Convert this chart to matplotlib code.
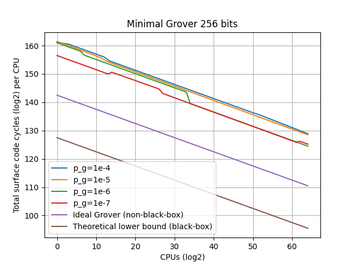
import io
import numpy as np
import matplotlib
matplotlib.use("Agg")
import matplotlib.pyplot as plt
from PIL import Image

# breakpoints (CPUs in log2, cycles in log2)
x_1e4 = [0, 3, 12, 13.4, 50, 51, 64]
y_1e4 = [161.2, 160.5, 156.0, 154.6, 136.3, 135.9, 128.9]

x_1e5 = [0, 8, 11, 13, 64]
y_1e5 = [161.5, 157.4, 155.8, 154.3, 128.5]

x_1e6 = [0, 6, 7, 33, 34, 64]
y_1e6 = [161.0, 158.0, 156.6, 143.6, 139.5, 124.5]

x_1e7 = [0, 13, 14, 26, 27, 61, 62, 63, 64]
y_1e7 = [156.5, 150.0, 150.6, 144.7, 143.1, 125.9, 126.2, 125.7, 125.2]

x_ideal = [0, 64]
y_ideal = [142.5, 110.5]

x_lower = [0, 64]
y_lower = [127.5, 95.5]

fig, ax = plt.subplots(figsize=(6.4, 4.8), dpi=100)

ax.plot(x_1e4, y_1e4, label="p_g=1e-4")
ax.plot(x_1e5, y_1e5, label="p_g=1e-5")
ax.plot(x_1e6, y_1e6, label="p_g=1e-6")
ax.plot(x_1e7, y_1e7, label="p_g=1e-7")
ax.plot(x_ideal, y_ideal, label="Ideal Grover (non-black-box)")
ax.plot(x_lower, y_lower, label="Theoretical lower bound (black-box)")

ax.set_title("Minimal Grover 256 bits")
ax.set_xlabel("CPUs (log2)")
ax.set_ylabel("Total surface code cycles (log2) per CPU")
ax.grid(True)
ax.legend(loc="lower left")

# render at 640x480 then scale down, like the reference
buf = io.BytesIO()
fig.savefig(buf, format="png", dpi=100)
buf.seek(0)
img = Image.open(buf).convert("RGB")
img.resize((356, 267), Image.LANCZOS).save("out.png")
